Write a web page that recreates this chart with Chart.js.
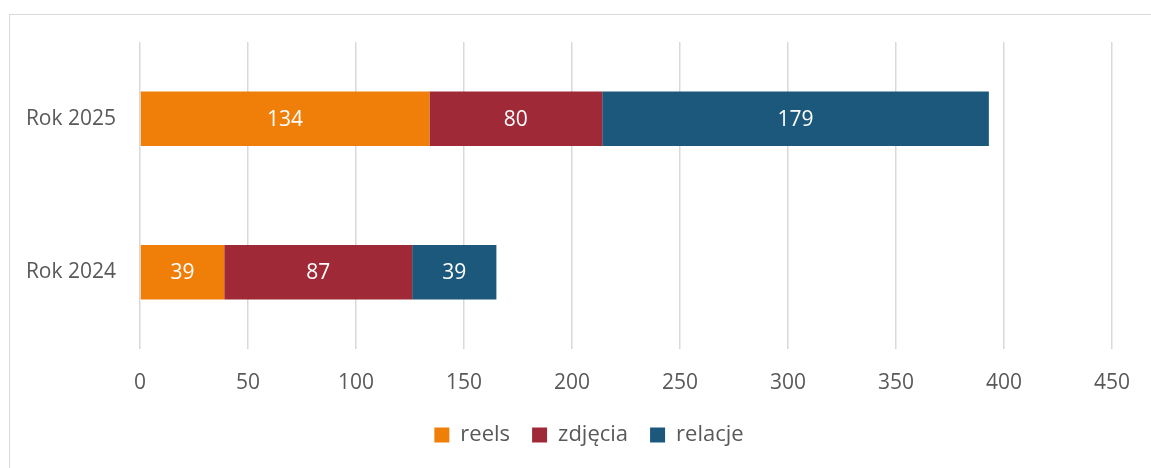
<!DOCTYPE html>
<html>
<head>
<meta charset="utf-8">
<script src="https://cdn.jsdelivr.net/npm/chart.js@4"></script>
<style>
  html, body { margin: 0; padding: 0; background: #fff; }
  #wrap { position: relative; width: 1151px; height: 468px; overflow: hidden; }
  #frame { position: absolute; left: 9px; top: 14px; width: 1200px; height: 500px; border: 1px solid #d9d9d9; }
  #myChart { position: absolute; left: 0; top: 0; }
</style>
</head>
<body>
<div id="wrap">
  <div id="frame"></div>
  <canvas id="myChart" width="1151" height="468"></canvas>
</div>
<script>
const lata = ["Rok 2025", "Rok 2024"]; // kategorie
const reels = [134, 39];
const zdjecia = [80, 87];
const relacje = [179, 39];
const osX = [0, 50, 100, 150, 200, 250, 300, 350, 400, 450]; // podziałka

const kolorTekstu = "#595959";
Chart.defaults.font.family = "'Open Sans', sans-serif";
Chart.defaults.font.size = 21;
Chart.defaults.color = kolorTekstu;

// etykiety na słupkach (bez pluginu datalabels)
const etykiety = {
  id: "etykiety",
  afterLayout(chart) {
    // legenda w Excelu jest trochę przesunięta w prawo
    chart.legend.left += 32;
    chart.legend.right += 32;
  },
  afterDatasetsDraw(chart) {
    const ctx = chart.ctx;
    ctx.save();
    ctx.fillStyle = "#ffffff";
    ctx.font = "21px 'Open Sans', sans-serif";
    ctx.textAlign = "center";
    ctx.textBaseline = "middle";
    chart.data.datasets.forEach((ds, i) => {
      chart.getDatasetMeta(i).data.forEach((bar, j) => {
        const p = bar.getProps(["x", "y", "base"], true);
        ctx.fillText(ds.data[j], (p.x + p.base) / 2, p.y + 1);
      });
    });
    ctx.restore();
  }
};

const ctx1 = document.getElementById("myChart").getContext("2d");
const myChart = new Chart(ctx1, {
  type: "bar",
  data: {
    labels: lata,
    datasets: [
      { label: "reels", data: reels, backgroundColor: "#F07F09" },
      { label: "zdjęcia", data: zdjecia, backgroundColor: "#9F2936" },
      { label: "relacje", data: relacje, backgroundColor: "#1B587C" }
    ]
  },
  options: {
    indexAxis: "y",
    responsive: false,
    animation: false,
    categoryPercentage: 0.355,
    barPercentage: 1,
    layout: { padding: { top: 42, right: 37, bottom: 12, left: 0 } },
    scales: {
      x: {
        stacked: true,
        min: 0,
        max: 450,
        afterBuildTicks: (axis) => { axis.ticks = osX.map(v => ({ value: v })); },
        grid: { color: "#d9d9d9", lineWidth: 1.5, drawTicks: false },
        border: { display: false },
        ticks: { padding: 21, color: kolorTekstu },
        afterFit: (axis) => { axis.height = 53; }
      },
      y: {
        stacked: true,
        grid: { display: false, drawTicks: false },
        border: { display: false },
        ticks: { padding: 24, color: kolorTekstu },
        afterFit: (axis) => { axis.width = 140; }
      }
    },
    plugins: {
      legend: {
        position: "bottom",
        labels: { boxWidth: 15, boxHeight: 15, padding: 22, color: kolorTekstu, font: { size: 22 } }
      },
      tooltip: { enabled: false }
    }
  },
  plugins: [etykiety]
});
</script>
</body>
</html>
